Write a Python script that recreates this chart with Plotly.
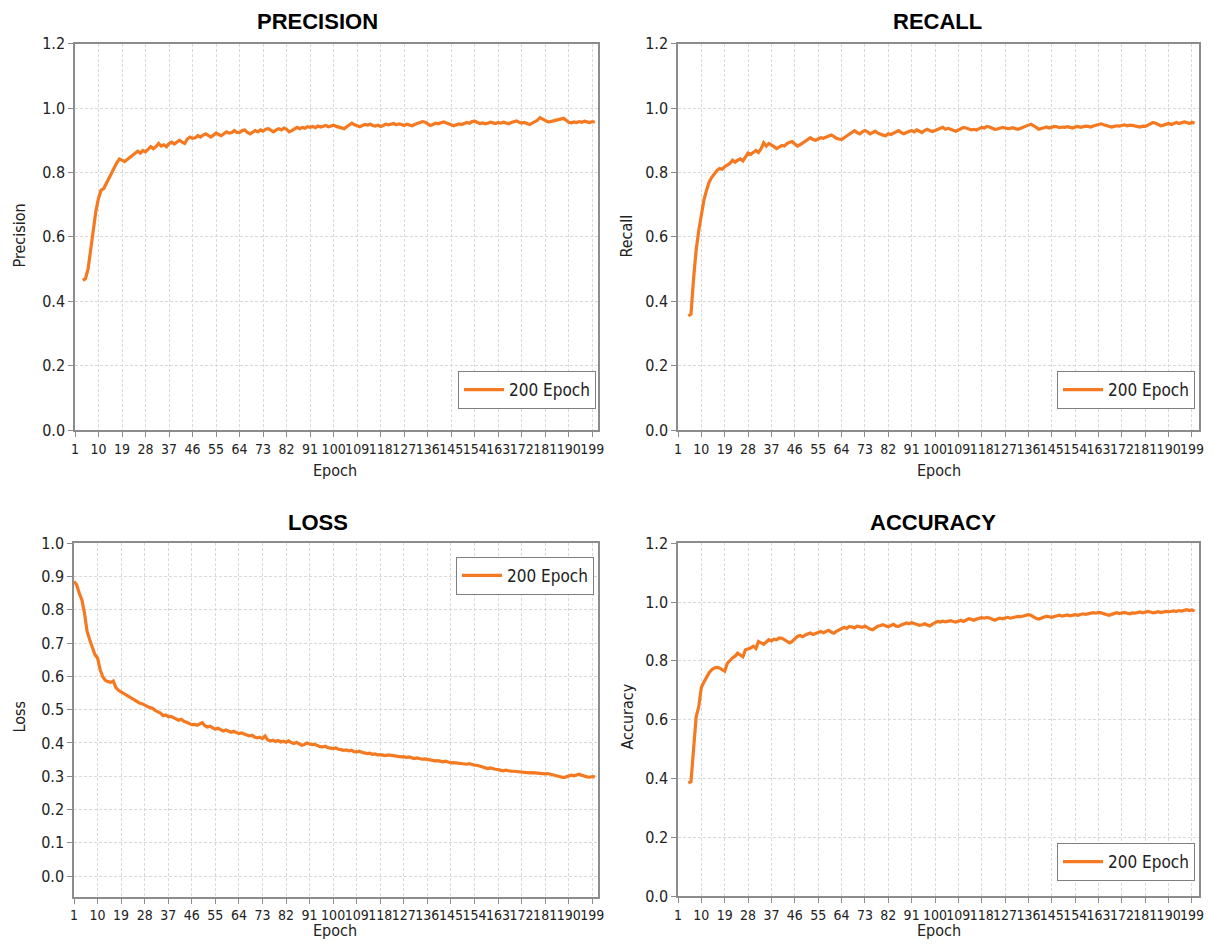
import plotly.graph_objects as go

# Figure sits at (8, 8) on the page and fits the window; its "paper" is inset.
W, H = 1197, 933
PAPER_L, PAPER_T = 10, 16          # screen position of paper origin
PAPER_W, PAPER_H = W - 10, H - 17  # paper size in pixels

# ---------------- data ----------------
precision_epochs = list(range(4, 201))
precision = [
    0.465, 0.47, 0.50, 0.56, 0.62, 0.68, 0.72, 0.745, 0.75, 0.766,
    0.785, 0.80, 0.815, 0.83, 0.842, 0.838, 0.834, 0.84, 0.846, 0.852,
    0.858, 0.866, 0.86, 0.868, 0.864, 0.872, 0.88, 0.874, 0.88, 0.89,
    0.882, 0.886, 0.88, 0.89, 0.894, 0.888, 0.895, 0.9, 0.894, 0.89,
    0.904, 0.91, 0.906, 0.908, 0.914, 0.91, 0.916, 0.92, 0.915, 0.91,
    0.916, 0.922, 0.918, 0.914, 0.92, 0.926, 0.922, 0.924, 0.93, 0.924,
    0.924, 0.93, 0.932, 0.924, 0.92, 0.926, 0.93, 0.926, 0.932, 0.928,
    0.934, 0.936, 0.93, 0.926, 0.932, 0.936, 0.932, 0.938, 0.934, 0.926,
    0.93, 0.936, 0.94, 0.936, 0.94, 0.937, 0.942, 0.94, 0.943, 0.939,
    0.944, 0.941, 0.943, 0.946, 0.942, 0.944, 0.947, 0.943, 0.94, 0.938,
    0.936, 0.942, 0.948, 0.953, 0.948, 0.944, 0.942, 0.946, 0.949, 0.947,
    0.95, 0.946, 0.944, 0.947, 0.943, 0.946, 0.95, 0.948, 0.951, 0.952,
    0.948, 0.951, 0.949, 0.946, 0.95, 0.948, 0.945, 0.949, 0.952, 0.955,
    0.958, 0.956, 0.952, 0.946, 0.949, 0.953, 0.951, 0.955, 0.957, 0.954,
    0.951, 0.948, 0.945, 0.948, 0.951, 0.949, 0.952, 0.955, 0.953, 0.958,
    0.959, 0.955, 0.952, 0.954, 0.951, 0.953, 0.956, 0.954, 0.952, 0.955,
    0.953, 0.956, 0.954, 0.951, 0.955, 0.958, 0.96, 0.956, 0.953, 0.955,
    0.951, 0.949, 0.953, 0.957, 0.962, 0.97, 0.966, 0.96, 0.957, 0.958,
    0.96, 0.961, 0.963, 0.966, 0.968, 0.962, 0.956, 0.954, 0.957, 0.955,
    0.958, 0.956, 0.959, 0.957, 0.955, 0.958, 0.956,
]

recall_epochs = list(range(5, 201))
recall = [
    0.355, 0.36, 0.47, 0.56, 0.62, 0.665, 0.715, 0.745, 0.77, 0.785,
    0.797, 0.806, 0.812, 0.81, 0.818, 0.822, 0.828, 0.838, 0.832, 0.838,
    0.842, 0.836, 0.85, 0.86, 0.856, 0.862, 0.868, 0.862, 0.874, 0.892,
    0.882, 0.89, 0.886, 0.88, 0.874, 0.878, 0.884, 0.882, 0.89, 0.894,
    0.896, 0.888, 0.882, 0.886, 0.892, 0.898, 0.904, 0.908, 0.902, 0.9,
    0.904, 0.908, 0.906, 0.91, 0.914, 0.916, 0.912, 0.906, 0.904, 0.902,
    0.908, 0.914, 0.92, 0.926, 0.93, 0.924, 0.92, 0.926, 0.93, 0.926,
    0.92, 0.924, 0.928, 0.922, 0.918, 0.916, 0.914, 0.92, 0.918, 0.922,
    0.926, 0.93, 0.924, 0.92, 0.924, 0.928, 0.93, 0.926, 0.932, 0.928,
    0.924, 0.93, 0.934, 0.93, 0.927, 0.93, 0.934, 0.938, 0.94, 0.934,
    0.937, 0.934, 0.93, 0.928, 0.932, 0.936, 0.94, 0.938, 0.935, 0.932,
    0.934, 0.932, 0.936, 0.94, 0.938, 0.943, 0.941, 0.937, 0.934, 0.935,
    0.937, 0.94, 0.938, 0.936, 0.937, 0.939, 0.936, 0.934, 0.937, 0.941,
    0.943, 0.947, 0.95, 0.946, 0.94, 0.934, 0.936, 0.939, 0.941, 0.938,
    0.94, 0.943, 0.942, 0.939, 0.941, 0.94, 0.942, 0.94, 0.938, 0.941,
    0.943, 0.94, 0.942, 0.944, 0.943, 0.941, 0.944, 0.947, 0.95, 0.951,
    0.948, 0.945, 0.943, 0.941, 0.943, 0.945, 0.944, 0.946, 0.948, 0.945,
    0.947, 0.946, 0.944, 0.943, 0.941, 0.944, 0.943, 0.947, 0.951, 0.955,
    0.953, 0.948, 0.945, 0.947, 0.95, 0.952, 0.949, 0.953, 0.955, 0.952,
    0.954, 0.957, 0.955, 0.952, 0.956, 0.953,
]

loss_epochs = list(range(1, 201))
loss = [
    0.885, 0.875, 0.85, 0.83, 0.79, 0.735, 0.71, 0.685, 0.665, 0.655,
    0.62, 0.598, 0.588, 0.584, 0.582, 0.586, 0.566, 0.558, 0.553, 0.548,
    0.545, 0.538, 0.534, 0.528, 0.524, 0.52, 0.518, 0.513, 0.51, 0.506,
    0.504, 0.498, 0.494, 0.49, 0.482, 0.484, 0.479, 0.48, 0.476, 0.472,
    0.468, 0.471, 0.465, 0.462, 0.458, 0.455, 0.456, 0.453, 0.457, 0.461,
    0.452, 0.448, 0.45, 0.445, 0.441, 0.444, 0.44, 0.436, 0.439, 0.435,
    0.432, 0.435, 0.431, 0.428, 0.43, 0.426, 0.424, 0.421, 0.423, 0.418,
    0.415, 0.417, 0.413, 0.421, 0.409, 0.406, 0.408, 0.404, 0.407, 0.403,
    0.405, 0.402, 0.406, 0.401, 0.398, 0.402, 0.396, 0.393, 0.395, 0.4,
    0.397, 0.395, 0.396, 0.392, 0.389, 0.388, 0.39, 0.386, 0.384, 0.383,
    0.385, 0.381, 0.38, 0.378, 0.379, 0.376, 0.378, 0.374, 0.373, 0.375,
    0.372, 0.37, 0.368, 0.369, 0.366, 0.367, 0.364, 0.365, 0.363, 0.362,
    0.364, 0.363, 0.36, 0.361, 0.359, 0.358, 0.359, 0.356, 0.358, 0.355,
    0.353, 0.355, 0.353, 0.351, 0.352, 0.35, 0.35, 0.348, 0.346, 0.347,
    0.344, 0.343, 0.345, 0.342, 0.34, 0.341, 0.34, 0.338, 0.339, 0.337,
    0.336, 0.338, 0.335, 0.333, 0.333, 0.33, 0.327, 0.325, 0.323, 0.325,
    0.322, 0.321, 0.32, 0.318, 0.316, 0.318, 0.316, 0.315, 0.315, 0.314,
    0.315, 0.313, 0.313, 0.312, 0.31, 0.311, 0.31, 0.31, 0.308, 0.309,
    0.307, 0.308, 0.306, 0.305, 0.303, 0.302, 0.299, 0.296, 0.298, 0.3,
    0.303, 0.301, 0.304, 0.306, 0.303, 0.3, 0.298, 0.297, 0.299, 0.298,
]

accuracy_epochs = list(range(5, 201))
accuracy = [
    0.385, 0.39, 0.50, 0.61, 0.645, 0.71, 0.728, 0.745, 0.76, 0.77,
    0.776, 0.778, 0.776, 0.77, 0.765, 0.792, 0.802, 0.81, 0.816, 0.826,
    0.82, 0.814, 0.838, 0.84, 0.844, 0.85, 0.842, 0.866, 0.86, 0.856,
    0.864, 0.872, 0.868, 0.874, 0.872, 0.878, 0.877, 0.872, 0.868, 0.861,
    0.866, 0.876, 0.883, 0.886, 0.882, 0.888, 0.892, 0.895, 0.89, 0.894,
    0.898, 0.9, 0.896, 0.9, 0.904, 0.898, 0.894, 0.9, 0.905, 0.91,
    0.914, 0.91, 0.917, 0.915, 0.912, 0.918, 0.917, 0.914, 0.918, 0.912,
    0.908, 0.906, 0.912, 0.918, 0.92, 0.923, 0.919, 0.916, 0.92, 0.924,
    0.918, 0.917, 0.922, 0.926, 0.929, 0.926, 0.93, 0.927, 0.924, 0.921,
    0.923, 0.926, 0.922, 0.919, 0.925, 0.93, 0.934, 0.932, 0.935, 0.933,
    0.936, 0.937, 0.934, 0.932, 0.935, 0.938, 0.934, 0.94, 0.943, 0.941,
    0.938, 0.942, 0.944, 0.947, 0.945, 0.948, 0.946, 0.943, 0.938, 0.942,
    0.945, 0.943, 0.946, 0.948, 0.945, 0.947, 0.949, 0.951, 0.95, 0.952,
    0.954, 0.957, 0.955, 0.948, 0.944, 0.942, 0.946, 0.949, 0.952, 0.95,
    0.948, 0.951, 0.953, 0.955, 0.952, 0.954, 0.956, 0.953, 0.955, 0.957,
    0.955, 0.958, 0.96, 0.958, 0.96, 0.962, 0.964, 0.962, 0.965, 0.963,
    0.96, 0.957, 0.955, 0.958, 0.962, 0.964, 0.961, 0.964, 0.965, 0.962,
    0.96, 0.963, 0.962, 0.964, 0.966, 0.963, 0.965, 0.968, 0.966, 0.963,
    0.965, 0.967, 0.964, 0.966, 0.968, 0.967, 0.969, 0.97, 0.968, 0.971,
    0.969, 0.972, 0.974, 0.971, 0.973, 0.969,
]

x_tick_values = [1, 10, 19, 28, 37, 46, 55, 64, 73, 82, 91, 100, 109, 118,
                 127, 136, 145, 154, 163, 172, 181, 190, 199]
x_tick_labels = [str(v) for v in x_tick_values]
series_name = "200 Epoch"
panel_titles = ["PRECISION", "RECALL", "LOSS", "ACCURACY"]
y_titles = ["Precision", "Recall", "Loss", "Accuracy"]

# ---------------- styling ----------------
LINE = "#F47920"
AXIS = "#8c8c8c"
GRID = "#d9d9d9"
TXT = "#222222"
FONT = "DejaVu Sans Condensed, Liberation Sans, Arial, sans-serif"


def px(x):
    return (x - PAPER_L) / PAPER_W


def py(y):
    return 1 - (y - PAPER_T) / PAPER_H


# panel geometry in screen pixels: left, right, top, bottom, x/y ranges, dtick
panels = [
    dict(l=73, r=596, t=42.7, b=430, xr=[1, 201.2], yr=[0, 1.2], dt=0.2),
    dict(l=676, r=1197, t=42.7, b=430, xr=[1, 201.7], yr=[0, 1.2], dt=0.2),
    dict(l=72, r=596, t=543.3, b=897.7, xr=[1, 201.2], yr=[-0.062, 1.0], dt=0.1),
    dict(l=676, r=1197, t=543.3, b=897.3, xr=[1, 201.7], yr=[0, 1.2], dt=0.2),
]

series = [
    (precision_epochs, precision),
    (recall_epochs, recall),
    (loss_epochs, loss),
    (accuracy_epochs, accuracy),
]

fig = go.Figure()
legend_names = ["legend", "legend2", "legend3", "legend4"]

for i, (p, (xs, ys)) in enumerate(zip(panels, series)):
    sfx = "" if i == 0 else str(i + 1)
    fig.add_trace(go.Scatter(
        x=xs, y=ys, mode="lines", name=series_name,
        line=dict(color=LINE, width=3.2),
        xaxis="x" + sfx, yaxis="y" + sfx,
        legend=legend_names[i], showlegend=True,
    ))
    xdom = [max(0, px(p["l"])), min(1, px(p["r"]))]
    ydom = [max(0, py(p["b"])), min(1, py(p["t"]))]
    fig.layout["xaxis" + sfx] = dict(
        domain=xdom, anchor="y" + sfx, range=p["xr"],
        tickmode="array", tickvals=x_tick_values, ticktext=x_tick_labels,
        tickangle=0, ticklabeloverflow="allow",
        showgrid=True, gridcolor=GRID, griddash="3px,2px", gridwidth=1,
        showline=True, linecolor=AXIS, linewidth=1.5, mirror=True,
        ticks="outside", ticklen=5, tickcolor=AXIS, tickwidth=1,
        tickfont=dict(family=FONT, size=14, color=TXT), zeroline=False,
    )
    fig.layout["yaxis" + sfx] = dict(
        domain=ydom, anchor="x" + sfx, range=p["yr"], tick0=0, dtick=p["dt"],
        tickformat=".1f", ticklabeloverflow="allow",
        showgrid=True, gridcolor=GRID, griddash="3px,2px", gridwidth=1,
        showline=True, linecolor=AXIS, linewidth=1.5, mirror=True,
        ticks="outside", ticklen=5, tickcolor=AXIS, tickwidth=1,
        tickfont=dict(family=FONT, size=16, color=TXT), zeroline=False,
    )

# legends
leg_common = dict(bgcolor="white", bordercolor="#7f7f7f", borderwidth=1,
                  font=dict(family=FONT, size=17, color=TXT), itemwidth=40,
                  xanchor="right")
fig.update_layout(
    legend=dict(x=px(594), y=py(409), yanchor="bottom", **leg_common),
    legend2=dict(x=px(1193), y=py(409), yanchor="bottom", **leg_common),
    legend3=dict(x=px(592), y=py(557), yanchor="top", **leg_common),
    legend4=dict(x=px(1193), y=py(882), yanchor="bottom", **leg_common),
)

annotations = []
title_pos = [(316, 21), (935, 21), (316, 523), (931, 523)]
for (tx, ty), t in zip(title_pos, panel_titles):
    annotations.append(dict(text="<b>%s</b>" % t, x=px(tx), y=py(ty),
                            xref="paper", yref="paper", showarrow=False,
                            xanchor="center", yanchor="middle",
                            font=dict(family="Liberation Sans, Arial, sans-serif",
                                      size=22, color="#000000")))
ytitle_pos = [(18, 235), (625, 235), (17, 717), (625, 717)]
for (tx, ty), t in zip(ytitle_pos, y_titles):
    annotations.append(dict(text=t, x=px(tx), y=py(ty), xref="paper",
                            yref="paper", showarrow=False, textangle=-90,
                            xanchor="center", yanchor="middle",
                            font=dict(family=FONT, size=16, color=TXT)))
xtitle_pos = [(333, 470), (937, 470), (333, 931), (937, 931)]
for (tx, ty) in xtitle_pos:
    annotations.append(dict(text="Epoch", x=px(tx), y=py(ty), xref="paper",
                            yref="paper", showarrow=False,
                            xanchor="center", yanchor="middle",
                            font=dict(family=FONT, size=16, color=TXT)))

fig.update_layout(
    width=W, height=H, margin=dict(l=0, r=0, t=0, b=0),
    paper_bgcolor="white", plot_bgcolor="white",
    annotations=annotations, font=dict(family=FONT, color=TXT),
)

fig.write_html("out.html")
